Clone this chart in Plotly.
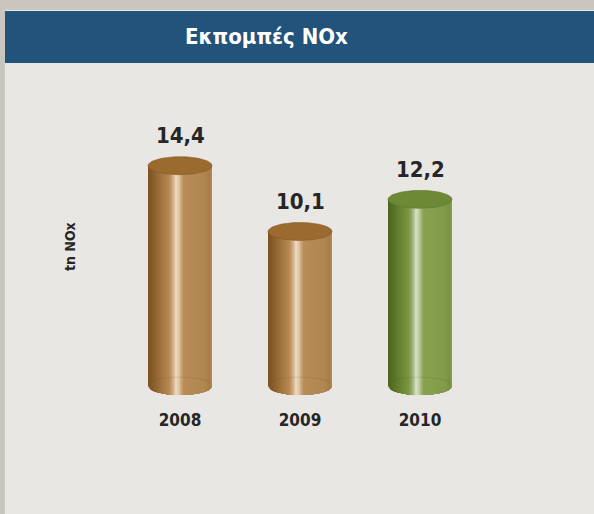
import numpy as np
import plotly.graph_objects as go

# ---- data ----
years = ["2008", "2009", "2010"]
emissions = [14.4, 10.1, 12.2]          # tn NOx
palettes = ["brown", "brown", "green"]
title_text = "Εκπομπές NOx"
axis_title = "tn NOx"

W, H = 594, 514
FONT = "Liberation Sans Narrow, DejaVu Sans Condensed, Liberation Sans, Arial, sans-serif"

# horizontal shading profiles for the cylinder bodies (position, colour)
SHADES = {
    "brown": [(0.00, "#7a5224"), (0.10, "#8c602e"), (0.22, "#a47740"), (0.33, "#b68852"),
              (0.39, "#cfac84"), (0.44, "#eddcc5"), (0.49, "#dcc09c"), (0.55, "#b98d5a"),
              (0.70, "#b48955"), (0.90, "#b08650"), (0.97, "#a47a46"), (1.00, "#bc9464")],
    "green": [(0.00, "#4a6620"), (0.10, "#587426"), (0.22, "#6c8836"), (0.33, "#7c9844"),
              (0.39, "#a2b67e"), (0.44, "#d9e3c7"), (0.49, "#bccb9c"), (0.55, "#88a050"),
              (0.70, "#84a04c"), (0.90, "#809a4a"), (0.97, "#76903e"), (1.00, "#92aa60")],
}
TOPS = {"brown": "#9a6a2e", "green": "#6d8936"}
RIMS = {"brown": "#87592a", "green": "#5c772a"}


def hex_rgb(h):
    h = h.lstrip("#")
    return np.array([int(h[i:i + 2], 16) for i in (0, 2, 4)], dtype=float)


def shade_at(stops, t):
    for (p0, c0), (p1, c1) in zip(stops[:-1], stops[1:]):
        if p0 <= t <= p1:
            f = 0 if p1 == p0 else (t - p0) / (p1 - p0)
            c = hex_rgb(c0) * (1 - f) + hex_rgb(c1) * f
            return "rgb(%d,%d,%d)" % tuple(np.round(c))
    return stops[-1][1]


# ---- axis geometry (x: category slots, y: tonnes) ----
px_per_x = 120.0
x_center0 = 180.0
x_range = [-x_center0 / px_per_x, (W - x_center0) / px_per_x]
plot_bottom_px = 408.0
zero_px = 386.0
px_per_unit = 15.3
y_range = [-(plot_bottom_px - zero_px) / px_per_unit, zero_px / px_per_unit]
y_domain = [(H - plot_bottom_px) / H, 1.0]

r = 32.0 / px_per_x          # cylinder half-width in x units
e = 9.0 / px_per_unit        # ellipse half-height in y units
N = 40                       # shading strips per cylinder

fig = go.Figure()

for i, (val, pal) in enumerate(zip(emissions, palettes)):
    stops = SHADES[pal]
    # body: strips drawn left to right, each covering to the right edge
    for k in range(N):
        t = k / N
        x0 = -r + 2 * r * t
        xs_curve = np.linspace(r, x0, 24)
        ys_curve = -e * np.sqrt(np.clip(1 - (xs_curve / r) ** 2, 0, 1))
        xs = [i + x0, i + r] + list(i + xs_curve)
        ys = [val, val] + list(ys_curve)
        fig.add_trace(go.Scatter(
            x=xs, y=ys, fill="toself", mode="lines",
            line=dict(width=0), fillcolor=shade_at(stops, t + 0.5 / N),
            hoverinfo="skip", showlegend=False))
    # faint back edge of the base
    th = np.linspace(0, np.pi, 60)
    fig.add_trace(go.Scatter(
        x=i + r * np.cos(th), y=e * np.sin(th),
        mode="lines", line=dict(width=0.8, color="rgba(90,60,20,0.18)"),
        hoverinfo="skip", showlegend=False))
    # top face
    ang = np.linspace(0, 2 * np.pi, 120)
    fig.add_trace(go.Scatter(
        x=i + r * np.cos(ang), y=val + e * np.sin(ang), fill="toself", mode="lines",
        line=dict(width=0.6, color=RIMS[pal]), fillcolor=TOPS[pal],
        hoverinfo="skip", showlegend=False))

# value labels above each cylinder
annotations = []
for i, val in enumerate(emissions):
    annotations.append(dict(
        x=i, y=val, xref="x", yref="y", yshift=30,
        text="<b>" + f"{val:.1f}".replace(".", ",") + "</b>", showarrow=False,
        font=dict(family=FONT, size=22, color="#262626"),
        xanchor="center", yanchor="middle"))

# panel title and axis title
annotations.append(dict(
    x=266 / W, y=1 - 37 / H, xref="paper", yref="paper", text=f"<b>{title_text}</b>",
    showarrow=False, font=dict(family=FONT, size=22, color="white"),
    xanchor="center", yanchor="middle"))
annotations.append(dict(
    x=70 / W, y=1 - 247 / H, xref="paper", yref="paper", text=f"<b>{axis_title}</b>",
    showarrow=False, textangle=-90,
    font=dict(family=FONT, size=14, color="#262626"),
    xanchor="center", yanchor="middle"))

shapes = [
    # content panel
    dict(type="rect", xref="paper", yref="paper", x0=5 / W, x1=1, y0=0, y1=1 - 10 / H,
         fillcolor="#e8e7e3", line=dict(width=0), layer="below"),
    # title band
    dict(type="rect", xref="paper", yref="paper", x0=5 / W, x1=1, y0=1 - 63 / H, y1=1 - 11 / H,
         fillcolor="#22537a", line=dict(width=0), layer="below"),
]

fig.update_layout(
    width=W, height=H,
    margin=dict(l=0, r=0, t=0, b=0),
    paper_bgcolor="#c9c5bf",
    plot_bgcolor="rgba(0,0,0,0)",
    shapes=shapes,
    annotations=annotations,
    xaxis=dict(range=x_range, domain=[0, 1], tickvals=list(range(len(years))),
               ticktext=[f"<b>{y}</b>" for y in years],
               showgrid=False, zeroline=False, showline=False, ticks="",
               tickfont=dict(family=FONT, size=17, color="#262626"),
               fixedrange=True),
    yaxis=dict(range=y_range, domain=y_domain, visible=False, fixedrange=True),
    showlegend=False,
)

fig.write_html("out.html")
